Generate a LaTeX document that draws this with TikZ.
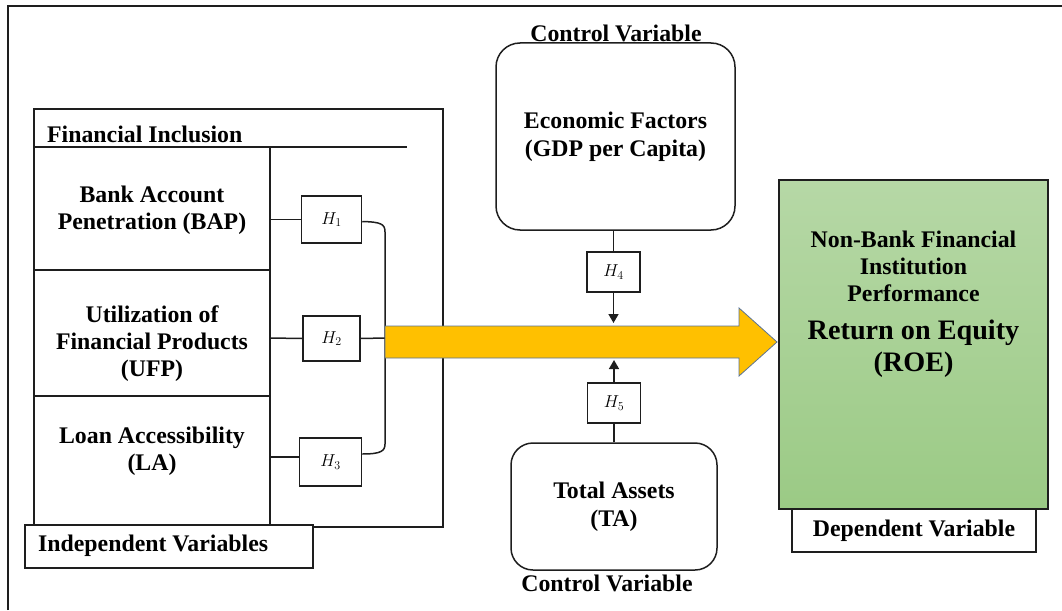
\documentclass[tikz,border=0pt]{standalone}
\usepackage{fontspec}
\setmainfont{Liberation Serif}
\usetikzlibrary{arrows.meta}
\definecolor{arrowyellow}{RGB}{255,192,0}
\definecolor{arrowedge}{RGB}{90,115,150}
\definecolor{greentop}{RGB}{182,216,166}
\definecolor{greenbot}{RGB}{155,202,133}
\definecolor{inkline}{RGB}{30,30,30}
\tikzset{
  txt/.style={inner sep=0pt, align=center, text=black,
    font=\fontsize{23.8}{27}\selectfont\bfseries},
  bigtxt/.style={inner sep=0pt, align=center, text=black,
    font=\fontsize{28.2}{32}\selectfont\bfseries},
  hbox/.style={draw=inkline, line width=1.5pt, fill=white, minimum width=60pt,
    minimum height=47pt, inner sep=0pt, font=\fontsize{18}{18}\selectfont},
  frame/.style={draw=inkline, line width=1.5pt},
  link/.style={draw=inkline, line width=1.5pt},
  tip/.style={-{Triangle[width=10pt,length=9pt]}},
  ctrlbox/.style={draw=inkline, line width=1.5pt, rounded corners=24pt,
    inner sep=0pt, align=center, font=\fontsize{23.8}{28}\selectfont\bfseries},
  tagbox/.style={draw=inkline, line width=1.5pt, fill=white, inner sep=0pt},
}
\begin{document}
\begin{tikzpicture}[x=1pt,y=-1pt]
\useasboundingbox (0,0) rectangle (1062,610);

% outer frame (top and left edges)
\draw[inkline, line width=2.2pt] (8,610) -- (8,6) -- (1062,6);

% ---- independent variables block ----
\draw[frame] (34,109) rectangle (443,527);
\node[txt, anchor=west] (fi) at (47,134) {Financial Inclusion};
\draw[link] (34,147) -- (407,147);
\coordinate (coltop) at (270,147);
\coordinate (colbot) at (270,526);
\draw[link] (coltop) -- (colbot);
\draw[link] (34,270) -- (270,270);
\draw[link] (34,396) -- (270,396);

\node[txt] (bap) at (152,210) {Bank Account\\Penetration (BAP)};
\node[txt] (ufp) at (152,344) {Utilization of\\Financial Products\\(UFP)};
\node[txt] (la)  at (152,451) {Loan Accessibility\\(LA)};

\node[tagbox, minimum width=288pt, minimum height=43pt] (indep) at (169,546.5) {};
\node[txt, anchor=west] (indeptxt) at (38,546) {Independent Variables};

% hypothesis boxes H1-H3
\node[hbox] (h1) at (331.5,219.5) {$H_1$};
\node[hbox, minimum width=57pt, minimum height=45pt] (h2) at (331.5,338.5) {$H_2$};
\node[hbox, minimum width=62pt, minimum height=48pt] (h3) at (330.5,462) {$H_3$};

\coordinate (c1) at (270,219.5);
\coordinate (c2) at (270,338);
\coordinate (c3) at (270,457);
\draw[link] (c1) -- (h1.west);
\draw[link] (c2) -- (h2.west);
\draw[link] (c3) -- (h3.west |- c3);

% bracket joining the three hypotheses (shifts are in page space: +y is up)
\coordinate (o1) at ([yshift=-2pt]h1.east);
\coordinate (o3) at ([yshift=8pt]h3.east);
\coordinate (bt) at (385,232);
\coordinate (bb) at (385,444);
\coordinate (bm) at (385,338);
\draw[link] (o1) .. controls (381,222) and (385,224) .. (bt)
  -- (bb) .. controls (385,451) and (381,454) .. (o3);
\draw[link] (h2.east) -- (bm);

% ---- main arrow ----
\draw[fill=arrowyellow, draw=arrowedge, line width=0.8pt]
  (385,326) -- (739,326) -- (739,308) -- (777,342) -- (739,376)
  -- (739,358) -- (385,358) -- cycle;

% ---- control variables ----
\node[txt] (ctop) at (616,33) {Control Variable};
\node[ctrlbox, minimum width=239pt, minimum height=187pt] (econ) at (615.5,136.5)
  {Economic Factors\\(GDP per Capita)};
\node[hbox, minimum width=53pt, minimum height=40pt] (h4) at (613.5,272) {$H_4$};
\coordinate (h4end) at (613.5,323);
\draw[link] (econ.south -| h4.north) -- (h4.north);
\draw[link, tip] (h4.south) -- (h4end);

\node[ctrlbox, rounded corners=22pt, minimum width=206pt, minimum height=127pt] (ta)
  at (614,506.5) {Total Assets\\(TA)};
\node[txt] (cbot) at (607,583) {Control Variable};
\node[hbox, minimum width=53pt, minimum height=40pt] (h5) at (614,403) {$H_5$};
\coordinate (h5end) at (614,360);
\draw[link] (ta.north -| h5.south) -- (h5.south);
\draw[link, tip] (h5.north) -- (h5end);

% ---- dependent variable ----
\node[draw=inkline, line width=1.5pt, top color=greentop, bottom color=greenbot,
  minimum width=269pt, minimum height=329pt, inner sep=0pt] (roe) at (913.5,344.5) {};
\node[txt] (nbfi) at (913.5,266) {Non-Bank Financial\\Institution\\Performance};
\node[bigtxt] (roetxt) at (913.5,349) {Return on Equity\\(ROE)};
\node[tagbox, minimum width=244pt, minimum height=43pt] (dep) at (914,530.5)
  {\fontsize{23.8}{27}\selectfont\bfseries Dependent Variable};
\end{tikzpicture}
\end{document}
